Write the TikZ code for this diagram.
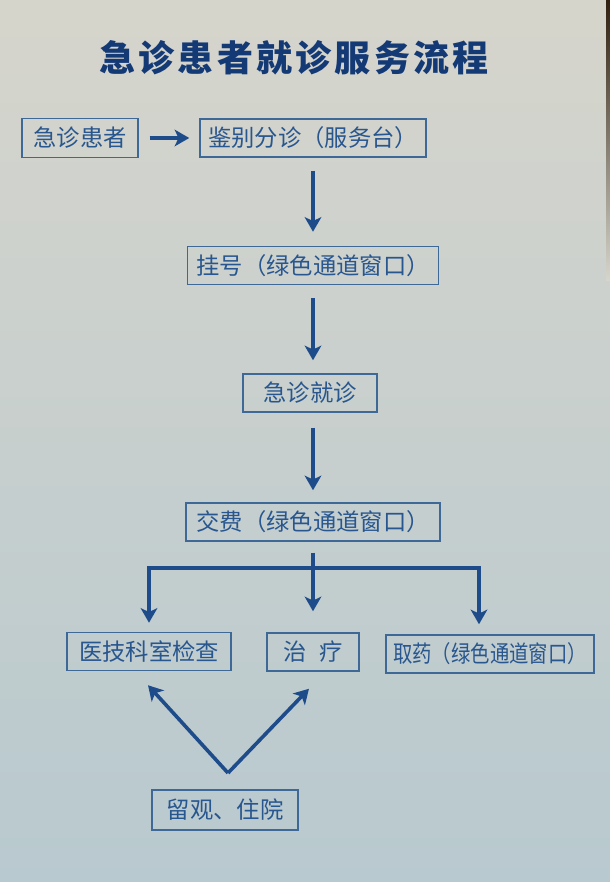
\documentclass[tikz,border=0pt]{standalone}
\usepackage{fontspec}
\setmainfont{Noto Sans CJK SC}
\usepackage{tikz}
\usetikzlibrary{arrows.meta}

\definecolor{bgtop}{RGB}{214,213,204}
\definecolor{bgbot}{RGB}{184,201,207}
\definecolor{linkblue}{RGB}{30,76,138}
\definecolor{boxblue}{RGB}{62,104,150}
\definecolor{textblue}{RGB}{40,86,142}
\definecolor{titleblue}{RGB}{20,58,118}

\begin{document}
\begin{tikzpicture}[x=0.75pt, y=-0.75pt,
	every node/.style={rectangle, draw=boxblue, line width=1.1pt, text=textblue, minimum height=28.5pt, inner sep=2pt, font=\fontsize{17.5}{20}\selectfont},
	arr/.style={draw=linkblue, line width=2.3pt, -{Stealth[length=11pt, width=12.5pt, inset=3pt]}},
	link/.style={draw=linkblue, line width=2.3pt}]
			\useasboundingbox (0,0) rectangle (610,882);
			\shade[top color=bgtop, bottom color=bgbot] (0,0) rectangle (610,882);
			\shade[top color=black!75!brown, bottom color=bgtop] (606,0) rectangle (610,280);
			
			\node[draw=none, text=titleblue, font=\fontsize{27}{30}\selectfont\bfseries\addfontfeature{LetterSpace=9}] (ttl) at (294,58){急诊患者就诊服务流程};
			
			\node[minimum width=87pt, minimum height=29.25pt] (ptn) at (80,138){急诊患者};
			\node[minimum width=169.5pt] (fz) at (313,138){鉴别分诊（服务台）};
			\node[minimum width=188.25pt] (gh) at (313,265.5){挂号（绿色通道窗口）};
			\node[minimum width=100.5pt] (jz) at (310,393){急诊就诊};
			\node[minimum width=190.5pt] (jf) at (313,522){交费（绿色通道窗口）};
			\node[minimum width=123pt] (yj) at (149,651.5){医技科室检查};
			\node[minimum width=69pt] (zl) at (313,652){治\hspace{10pt}疗};
			\node[minimum width=156pt] (qy) at (490,654){\scalebox{0.83}[1]{取药（绿色通道窗口）}};
			\node[minimum width=109.5pt, minimum height=30pt] (lg) at (225,810){留观、住院};
			
			\coordinate (br) at (313,568);
			\coordinate (v) at (228,773);
			
			\path (ptn) edge[arr, shorten <=8.25pt, shorten >=7.5pt] (fz);
			\path (fz) edge[arr, shorten <=9.75pt, shorten >=10.5pt] (gh);
			\path (gh) edge[arr, shorten <=9.75pt, shorten >=9.75pt] (jz.north -| gh.south);
			\path (jz.south -| jf.north) edge[arr, shorten <=11.25pt, shorten >=9pt] (jf);
			\path (jf) edge[arr, shorten <=8.25pt, shorten >=15.75pt] (zl);
			\draw[arr, shorten >=6.75pt] (br) -| (yj);
			\draw[arr, shorten >=7.5pt] (br) -| ([xshift=-8.25pt]qy.north);
			\draw[link] (br) -- (br -| yj.north);
			
			\path (v) edge[arr, line width=2.7pt] ([xshift=-0.75pt, yshift=-10.5pt]yj.south);
			\path (v) edge[arr, line width=2.7pt] ([xshift=-3pt, yshift=-12.75pt]zl.south);
			\end{tikzpicture}
\end{document}
